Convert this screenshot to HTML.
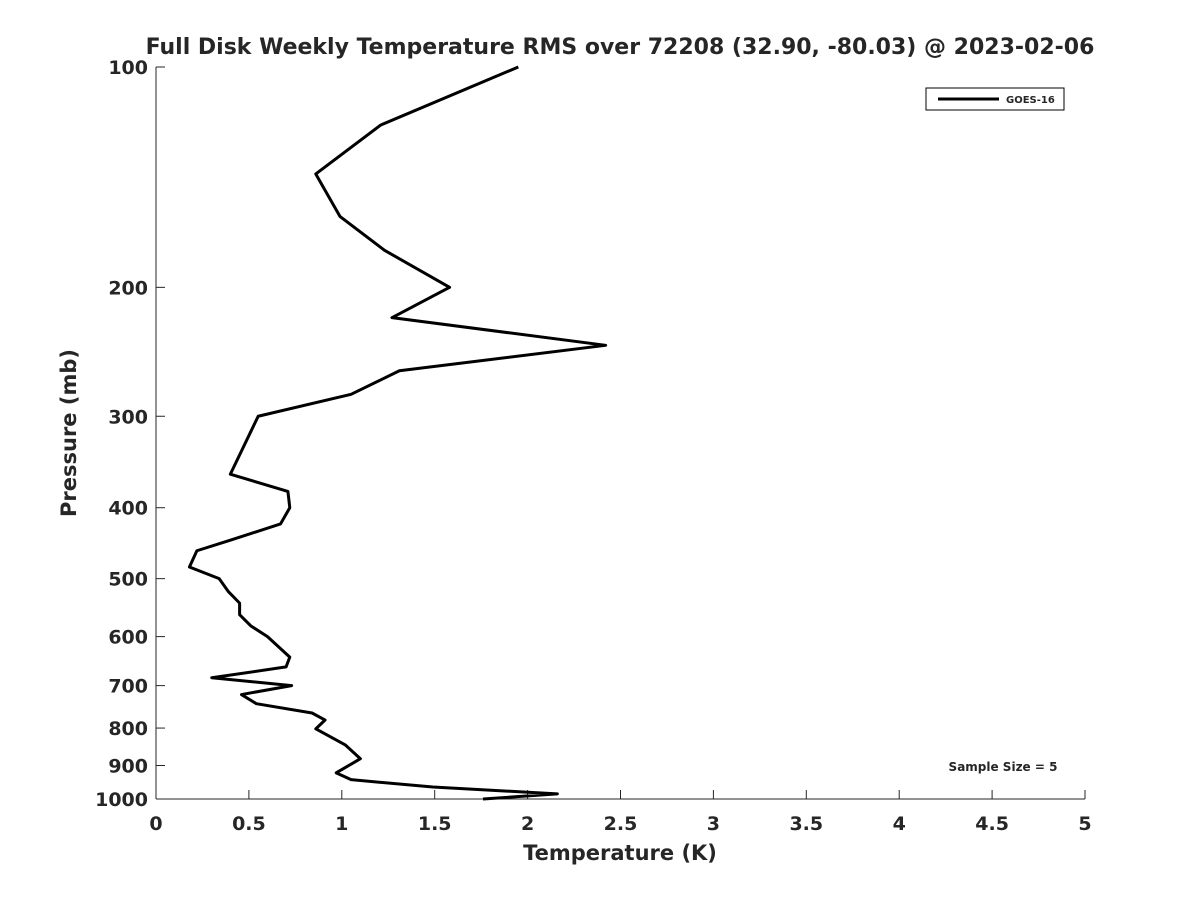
<!DOCTYPE html>
<html><head><meta charset="utf-8"><style>
body{margin:0;background:#fff;}
svg text{font-family:"DejaVu Sans","Liberation Sans",sans-serif;font-weight:bold;fill:#262626;}
</style></head><body>
<svg id="c" width="1200" height="900" xmlns="http://www.w3.org/2000/svg">
<text x="620" y="54" font-size="22" text-anchor="middle" fill="#000">Full Disk Weekly Temperature RMS over 72208 (32.90, -80.03) @ 2023-02-06</text>
<g id="axes"></g>
<polyline id="line" fill="none" stroke="#000" stroke-width="3" stroke-linejoin="round"/>
<g>
<rect x="926" y="88" width="138" height="22" fill="#fff" stroke="#000" stroke-width="1"/>
<line x1="938" y1="99" x2="999" y2="99" stroke="#000" stroke-width="3"/>
<text x="1006" y="103" font-size="10" fill="#000">GOES-16</text>
</g>
<text x="1003" y="771" font-size="12" text-anchor="middle" fill="#000">Sample Size = 5</text>
<text x="620" y="860" font-size="21" text-anchor="middle">Temperature (K)</text>
<text transform="translate(76,433) rotate(-90)" font-size="21" text-anchor="middle">Pressure (mb)</text>
</svg>
<script>
const temps=[1.95,1.21,0.86,0.99,1.23,1.58,1.27,2.42,1.31,1.05,0.55,0.40,0.71,0.72,0.67,0.40,0.22,0.18,0.34,0.39,0.45,0.45,0.51,0.60,0.72,0.70,0.30,0.73,0.46,0.54,0.84,0.91,0.86,1.02,1.10,0.97,1.05,1.49,2.16,1.76];
const pressures=[100,120,140,160,178,200,220,240,260,280,300,360,380,400,421,443,458,482,500,521,540,560,580,600,640,660,683,700,720,741,763,780,802,844,881,921,941,963,984,1000];
const xTicks=[0,0.5,1,1.5,2,2.5,3,3.5,4,4.5,5];
const yTicks=[100,200,300,400,500,600,700,800,900,1000];
const X0=156,X1=1085,Y0=67,Y1=799;
const xs=v=>X0+(v/5)*(X1-X0);
const ys=p=>Y0+Math.log10(p/100)*(Y1-Y0);
const NS="http://www.w3.org/2000/svg";
const g=document.getElementById('axes');
function mk(t,a,txt){const e=document.createElementNS(NS,t);for(const k in a)e.setAttribute(k,a[k]);if(txt!==undefined)e.textContent=txt;g.appendChild(e);return e;}
let e=mk('line',{x1:X0,y1:Y0,x2:X0,y2:Y1,stroke:'#262626','stroke-width':1});


e=mk('line',{x1:X0,y1:Y1,x2:X1,y2:Y1,stroke:'#262626','stroke-width':1});


xTicks.forEach(v=>{const x=xs(v);
mk('line',{x1:x,y1:Y1,x2:x,y2:Y1-9,stroke:'#262626'});
const t=mk('text',{x:x,y:Y1+31,'font-size':19,'text-anchor':'middle'},String(v));

});
yTicks.forEach(p=>{const y=ys(p);
mk('line',{x1:X0,y1:y,x2:X0+9,y2:y,stroke:'#262626'});
const t=mk('text',{x:X0-8,y:y+7,'font-size':19,'text-anchor':'end'},String(p));

});
document.getElementById('line').setAttribute('points',temps.map((t,i)=>xs(t)+','+ys(pressures[i])).join(' '));
</script>
</body></html>
